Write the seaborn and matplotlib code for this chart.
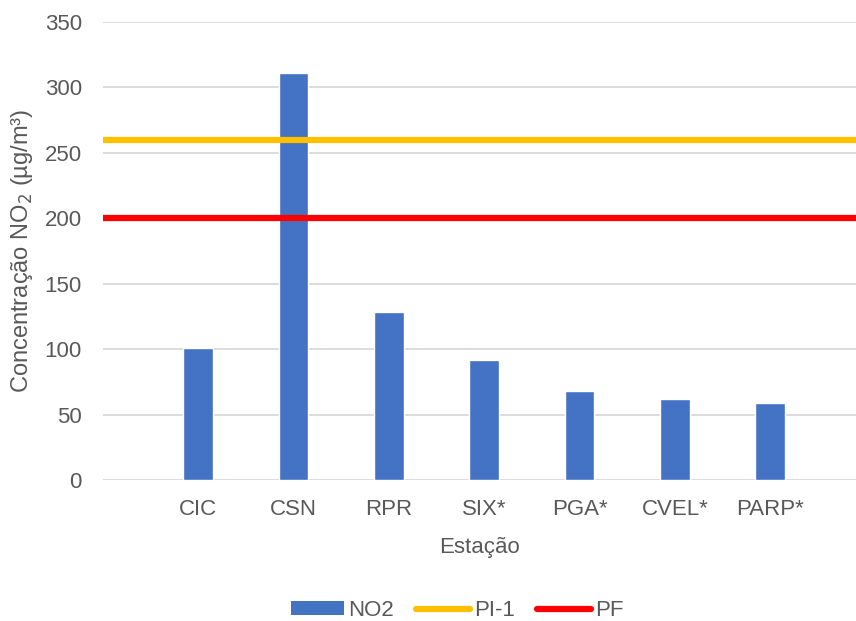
import matplotlib
matplotlib.use("Agg")
import matplotlib.pyplot as plt
from matplotlib.patches import Patch
from matplotlib.lines import Line2D
import seaborn as sns
import pandas as pd

# NO2 concentration per monitoring station
stations = ["CIC", "CSN", "RPR", "SIX*", "PGA*", "CVEL*", "PARP*"]
no2_values = [101, 311, 128, 91.5, 68, 62, 59]

# Reference limits
pi1_limit = 260
pf_limit = 200

sns.set_theme(style="white")
plt.rcParams["font.family"] = ["Liberation Sans", "DejaVu Sans"]

text_color = "#595959"
grid_color = "#D9D9D9"
bar_color = "#4472C4"
pi1_color = "#FFC000"
pf_color = "#FF0000"
fs = 16

df = pd.DataFrame({"Estação": stations, "NO2": no2_values})

fig = plt.figure(figsize=(8.56, 6.21), dpi=100)
ax = fig.add_axes([0.12, 0.227, 0.88, 0.738])

sns.barplot(data=df, x="Estação", y="NO2", color=bar_color, width=0.31,
            saturation=1, ax=ax, zorder=3)

ax.set_xlim(-1.0, 6.9)
ax.set_ylim(0, 350)
ax.set_yticks(range(0, 351, 50))

ax.axhline(pi1_limit, color=pi1_color, lw=4.5, zorder=4)
ax.axhline(pf_limit, color=pf_color, lw=4.5, zorder=4)

ax.yaxis.grid(True, color=grid_color, lw=1.3, zorder=0)
ax.set_axisbelow(True)
for s in ax.spines.values():
    s.set_visible(False)

ax.tick_params(axis="both", length=0, labelsize=fs, labelcolor=text_color)
ax.tick_params(axis="x", pad=14)
ax.tick_params(axis="y", pad=15)

ax.set_xlabel("Estação", fontsize=fs, color=text_color, labelpad=12)
ax.set_ylabel("Concentração NO$_2$ (µg/m³)", fontsize=17, color=text_color, labelpad=7)

handles = [
    Patch(facecolor=bar_color, edgecolor="none", label="NO2"),
    Line2D([0], [0], color=pi1_color, lw=4.5, solid_capstyle="round", label="PI-1"),
    Line2D([0], [0], color=pf_color, lw=4.5, solid_capstyle="round", label="PF"),
]
fig.legend(handles=handles, loc="center", bbox_to_anchor=(0.534, 0.017),
           ncol=3, frameon=False, fontsize=fs, labelcolor=text_color,
           handlelength=2.4, handleheight=0.55, handletextpad=0.2,
           columnspacing=1.0)

fig.savefig("out.png", dpi=100, facecolor="white")
